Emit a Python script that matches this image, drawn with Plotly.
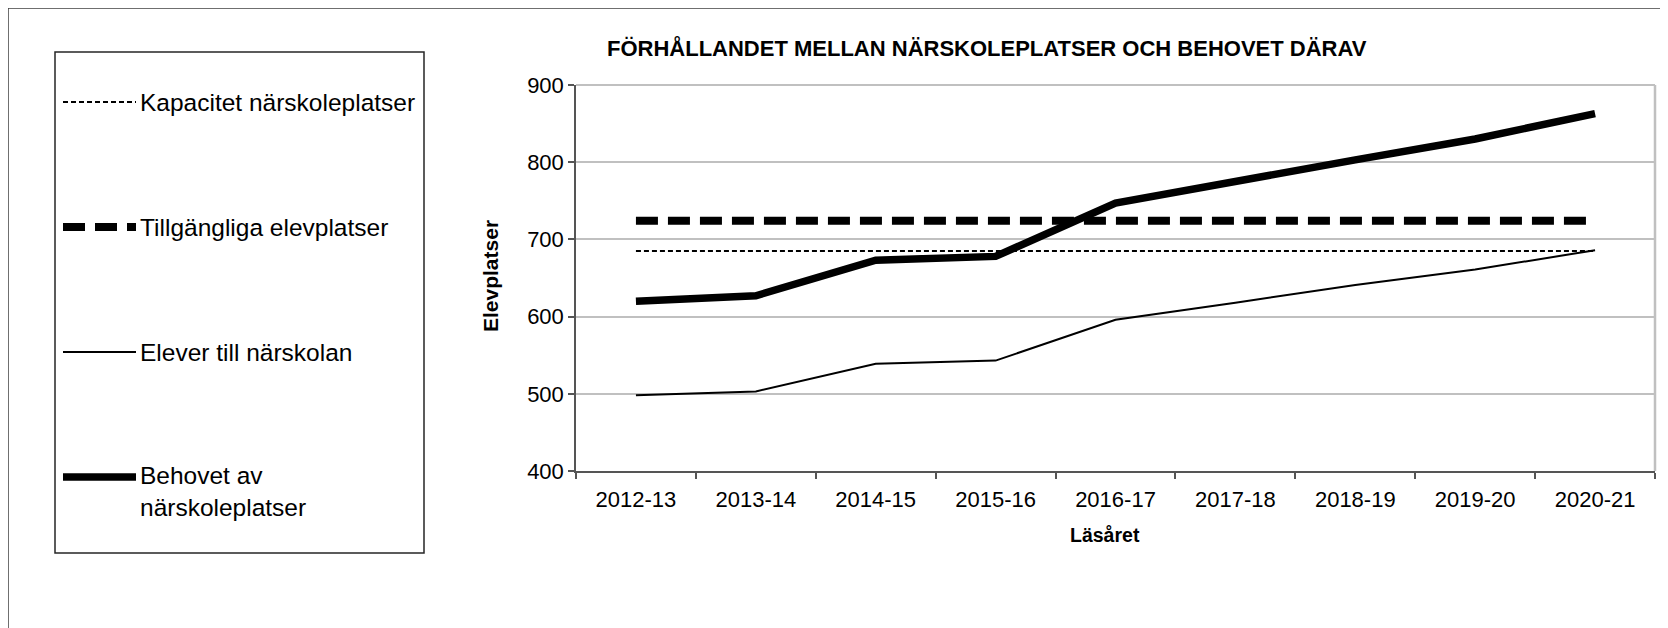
import plotly.graph_objects as go

categories = ["2012-13", "2013-14", "2014-15", "2015-16", "2016-17",
              "2017-18", "2018-19", "2019-20", "2020-21"]
kapacitet = [685, 685, 685, 685, 685, 685, 685, 685, 685]
tillgangliga = [724, 724, 724, 724, 724, 724, 724, 724, 724]
elever = [498, 503, 539, 543, 596, 618, 641, 661, 686]
behovet = [620, 627, 673, 678, 747, 776, 803, 830, 863]

series_names = ["Kapacitet närskoleplatser", "Tillgängliga elevplatser",
                "Elever till närskolan", "Behovet av<br>närskoleplatser"]

OFF = 8  # page body margin
W, H = 1668 - OFF, 628 - OFF
# plot area in screen pixels
SL, SR, ST, SB = 576, 1655, 85, 471
L, R, T, B = SL - OFF, SR - OFF, ST - OFF, SB - OFF
FONT = "Arial, Liberation Sans, sans-serif"


def px(x):
    return (x - OFF - L) / (R - L)


def py(y):
    return (B - (y - OFF)) / (B - T)


styles = [
    dict(color="black", width=2, dash="5px,3px"),
    dict(color="black", width=8, dash="22px,10px"),
    dict(color="black", width=2, dash="solid"),
    dict(color="black", width=7.5, dash="solid"),
]

fig = go.Figure()
for name, vals, st in zip(series_names, [kapacitet, tillgangliga, elever, behovet], styles):
    fig.add_trace(go.Scatter(x=categories, y=vals, mode="lines", name=name,
                             line=st, showlegend=False))

shapes = []
annotations = []

# outer frame
shapes.append(dict(type="rect", xref="paper", yref="paper",
                   x0=px(8), x1=px(1700), y0=py(8), y1=py(700),
                   line=dict(color="#404040", width=1.5), layer="below"))
# legend box
shapes.append(dict(type="rect", xref="paper", yref="paper",
                   x0=px(55), x1=px(424), y0=py(52), y1=py(553),
                   line=dict(color="#262626", width=1.5)))
# plot area right & top borders
shapes.append(dict(type="line", xref="paper", yref="paper", x0=1, x1=1, y0=0, y1=1,
                   line=dict(color="#c0c0c0", width=2.5)))
shapes.append(dict(type="line", xref="paper", yref="paper", x0=0, x1=1, y0=1, y1=1,
                   line=dict(color="#c0c0c0", width=2)))

# legend entries
leg_y = [102, 227, 352, 477]
text_y = [102, 227, 352, 491]
for name, st, ly, ty in zip(series_names, styles, leg_y, text_y):
    shapes.append(dict(type="line", xref="paper", yref="paper",
                       x0=px(63), x1=px(136), y0=py(ly), y1=py(ly),
                       line=st))
    annotations.append(dict(text=name, xref="paper", yref="paper",
                            x=px(138), y=py(ty), xanchor="left", yanchor="middle",
                            showarrow=False, align="left",
                            font=dict(family=FONT, size=24.5, color="black")))

# title
annotations.append(dict(text="<b>FÖRHÅLLANDET MELLAN NÄRSKOLEPLATSER OCH BEHOVET DÄRAV</b>",
                        xref="paper", yref="paper", x=px(987), y=py(48),
                        xanchor="center", yanchor="middle", showarrow=False,
                        font=dict(family=FONT, size=22, color="black")))
# axis titles
annotations.append(dict(text="<b>Elevplatser</b>", xref="paper", yref="paper",
                        x=px(490), y=py(276), xanchor="center", yanchor="middle",
                        textangle=-90, showarrow=False,
                        font=dict(family=FONT, size=21, color="black")))
annotations.append(dict(text="<b>Läsåret</b>", xref="paper", yref="paper",
                        x=px(1105), y=py(535), xanchor="center", yanchor="middle",
                        showarrow=False,
                        font=dict(family=FONT, size=19.5, color="black")))

fig.update_layout(
    width=W, height=H,
    margin=dict(l=L, r=W - R, t=T, b=H - B, autoexpand=False),
    paper_bgcolor="white", plot_bgcolor="white",
    showlegend=False,
    shapes=shapes, annotations=annotations,
    font=dict(family=FONT, color="black"),
)
fig.update_xaxes(type="category", range=[-0.5, 8.5], showgrid=False,
                 showline=True, linecolor="#555555", linewidth=2,
                 ticks="outside", tickson="boundaries", ticklen=6,
                 tickcolor="#555555", tickwidth=1.5,
                 tickfont=dict(family=FONT, size=22, color="black"),
                 ticklabelstandoff=8, automargin=False, fixedrange=True)
fig.update_yaxes(range=[400, 900], dtick=100, tick0=400, showgrid=True,
                 gridcolor="#c0c0c0", gridwidth=1.5,
                 showline=True, linecolor="#555555", linewidth=1.5,
                 ticks="outside", ticklen=6, tickcolor="#555555", tickwidth=1.5,
                 tickfont=dict(family=FONT, size=22, color="black"),
                 ticklabelstandoff=0, zeroline=False, automargin=False, fixedrange=True)

fig.write_html("out.html")
